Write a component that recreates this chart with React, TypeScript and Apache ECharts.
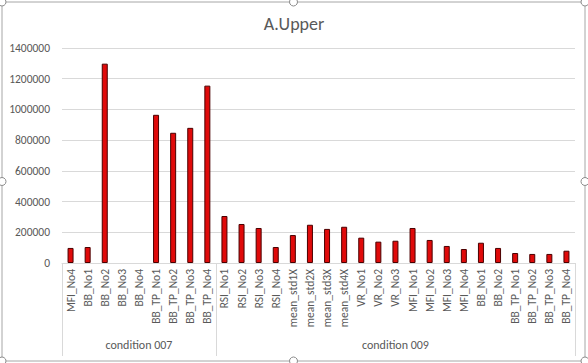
import React, { useEffect, useRef } from "react";
import * as echarts from "echarts";

const group007Labels = ["MFI_No4", "BB_No1", "BB_No2", "BB_No3", "BB_No4", "BB_TP_No1", "BB_TP_No2", "BB_TP_No3", "BB_TP_No4"];
const group009Labels = ["RSI_No1", "RSI_No2", "RSI_No3", "RSI_No4", "mean_std1X", "mean_std2X", "mean_std3X", "mean_std4X", "VR_No1", "VR_No2", "VR_No3", "MFI_No1", "MFI_No2", "MFI_No3", "MFI_No4", "BB_No1", "BB_No2", "BB_TP_No1", "BB_TP_No2", "BB_TP_No3", "BB_TP_No4"];
const groupNames = ["condition 007", "condition 009"];

const values007 = [98000, 104000, 1298000, 0, 0, 965000, 848000, 880000, 1155000];
const values009 = [306000, 254000, 228000, 104000, 182000, 249000, 222000, 236000, 165000, 139000, 145000, 228000, 150000, 111000, 91000, 132000, 98000, 65000, 59000, 59000, 80000];

const yTicks = { min: 0, max: 1400000, interval: 200000 };

export default function App() {
  const ref = useRef<HTMLDivElement>(null);
  useEffect(() => {
    document.body.style.margin = "0";
    if (!ref.current) return;
    const chart = echarts.init(ref.current, undefined, { renderer: "svg" });
    const groups = [group007Labels, group009Labels];
    const categories = [...group007Labels, ...group009Labels];
    const values = [...values007, ...values009];
    const groupAxisData: string[] = [];
    const groupStarts: number[] = [];
    const groupMids: number[] = [];
    let start = 0;
    groups.forEach((g, gi) => {
      groupStarts.push(start);
      const mid = start + Math.floor(g.length / 2);
      groupMids.push(mid);
      g.forEach((_, i) => groupAxisData.push(start + i === mid ? groupNames[gi] : ""));
      start += g.length;
    });
    const textColor = "#595959";
    const gridColor = "#d9d9d9";
    const font = "Calibri, Carlito, 'Liberation Sans', 'Open Sans', sans-serif";
    chart.setOption({
      animation: false,
      textStyle: { fontFamily: font, color: textColor },
      title: {
        text: "A.Upper",
        left: "center",
        top: 10,
        textStyle: { fontSize: 18, fontWeight: "normal", color: textColor, fontFamily: font },
      },
      grid: { left: 62, right: 13, top: 48, bottom: 100, containLabel: false },
      xAxis: [
        {
          type: "category",
          data: categories,
          position: "bottom",
          axisLine: { show: true, lineStyle: { color: gridColor, width: 1 } },
          axisTick: { show: false },
          axisLabel: {
            rotate: 90,
            interval: 0,
            margin: 6,
            fontSize: 11.5,
            color: textColor,
            fontFamily: font,
          },
        },
        {
          type: "category",
          data: groupAxisData,
          position: "bottom",
          axisLine: { show: false },
          axisTick: {
            show: true,
            length: 93,
            interval: (index: number) => groupStarts.includes(index),
            lineStyle: { color: gridColor, width: 1 },
          },
          axisLabel: {
            interval: (index: number) => groupMids.includes(index),
            margin: 76,
            fontSize: 12,
            color: textColor,
            fontFamily: font,
          },
        },
      ],
      yAxis: {
        type: "value",
        min: yTicks.min,
        max: yTicks.max,
        interval: yTicks.interval,
        axisLine: { show: false },
        axisTick: { show: false },
        splitLine: { lineStyle: { color: gridColor, width: 1 } },
        axisLabel: {
          color: textColor,
          fontSize: 11.5,
          margin: 12,
          fontFamily: font,
          formatter: (v: number) => String(v),
        },
      },
      series: [
        {
          type: "bar",
          xAxisIndex: 0,
          data: values.map((v) => (v === 0 ? { value: v, itemStyle: { borderWidth: 0, opacity: 0 } } : v)),
          barWidth: 6,
          itemStyle: { color: "#e00a0a", borderColor: "#4a0000", borderWidth: 1 },
        },
      ],
      graphic: [
        {
          type: "rect",
          shape: { x: 2, y: 2, width: 583, height: 359, r: 3 },
          style: { fill: "none", stroke: "#a6a6a6", lineWidth: 1 },
          silent: true,
        },
        ...[
          [2, 2], [293.5, 2], [585, 2],
          [2, 181.5], [585, 181.5],
          [2, 361], [293.5, 361], [585, 361],
        ].map(([cx, cy]) => ({
          type: "circle",
          shape: { cx, cy, r: 4 },
          style: { fill: "#ffffff", stroke: "#8c8c8c", lineWidth: 1 },
          silent: true,
        })),
      ],
    });
    return () => chart.dispose();
  }, []);
  return <div ref={ref} style={{ width: 588, height: 363 }} />;
}
